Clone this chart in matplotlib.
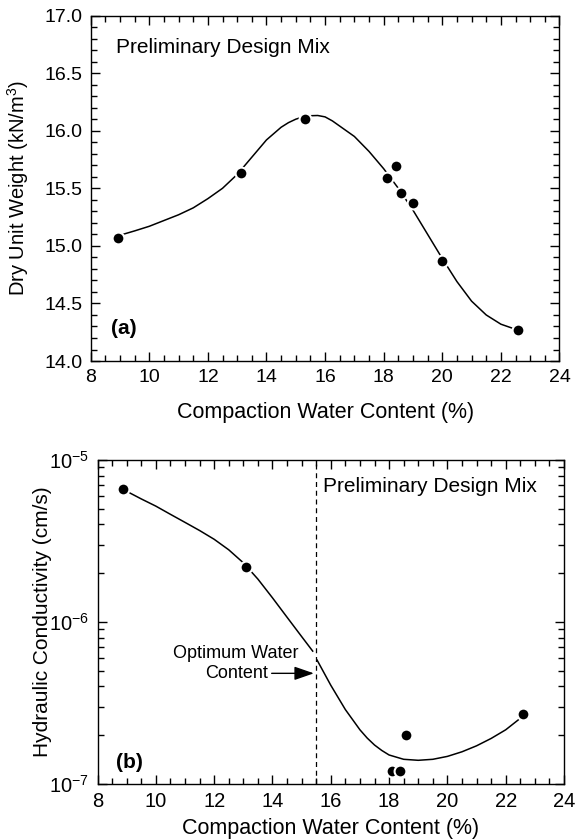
import numpy as np
import matplotlib
matplotlib.use('Agg')
import matplotlib.pyplot as plt
from matplotlib.ticker import MultipleLocator, LogLocator, NullFormatter

plt.rcParams['font.family'] = ['Liberation Sans', 'DejaVu Sans']
plt.rcParams['mathtext.fontset'] = 'custom'
plt.rcParams['mathtext.rm'] = 'Liberation Sans'
plt.rcParams['mathtext.it'] = 'Liberation Sans:italic'
plt.rcParams['mathtext.bf'] = 'Liberation Sans:bold'

# (a) compaction curve
w_a = [8.93, 13.13, 15.32, 18.10, 18.41, 18.60, 19.00, 20.00, 22.60]
gd_a = [15.07, 15.63, 16.10, 15.59, 15.69, 15.46, 15.37, 14.87, 14.27]

# fitted curve
fit_w_a = [9.1, 9.5, 10.0, 10.5, 11.0, 11.5, 12.0, 12.5, 13.0, 13.5, 14.0, 14.5,
           14.75, 15.0, 15.25, 15.5, 15.75, 16.0, 16.25, 16.5, 17.0, 17.5, 18.0,
           18.5, 19.0, 19.5, 20.0, 20.5, 21.0, 21.5, 22.0, 22.45]
fit_gd_a = [15.10, 15.13, 15.17, 15.22, 15.27, 15.33, 15.41, 15.50, 15.62, 15.77,
            15.92, 16.03, 16.07, 16.10, 16.12, 16.13, 16.132, 16.12, 16.085, 16.04,
            15.95, 15.82, 15.67, 15.50, 15.31, 15.10, 14.89, 14.69, 14.52, 14.40,
            14.32, 14.28]

# (b) hydraulic conductivity
w_b = [8.89, 13.08, 18.09, 18.39, 18.58, 22.59]
k_b = [6.6e-6, 2.2e-6, 1.2e-7, 1.2e-7, 2.0e-7, 2.7e-7]

fit_w_b1 = [9.07, 9.5, 10.0, 10.5, 11.0, 11.5, 12.0, 12.5, 13.0, 13.5, 14.0, 14.5, 15.0, 15.38]
fit_k_b1 = [6.31e-6, 5.75e-6, 5.19e-6, 4.62e-6, 4.12e-6, 3.67e-6, 3.24e-6, 2.79e-6,
            2.32e-6, 1.84e-6, 1.41e-6, 1.07e-6, 8.13e-7, 6.61e-7]
fit_w_b2 = [15.53, 16.0, 16.5, 17.0, 17.25, 17.5, 17.75, 18.0, 18.5, 19.0, 19.5, 20.0,
            20.5, 21.0, 21.5, 22.0, 22.46]
fit_k_b2 = [5.82e-7, 4.07e-7, 2.88e-7, 2.16e-7, 1.92e-7, 1.74e-7, 1.61e-7, 1.51e-7,
            1.42e-7, 1.40e-7, 1.42e-7, 1.48e-7, 1.58e-7, 1.72e-7, 1.91e-7, 2.16e-7,
            2.51e-7]

w_opt = 15.5

fig = plt.figure(figsize=(5.75, 8.4), dpi=100)
ax1 = fig.add_axes([0.1577, 0.5702, 0.8153, 0.4113])
ax2 = fig.add_axes([0.1696, 0.0667, 0.8113, 0.3857])

def style(ax, fs):
	for s in ax.spines.values():
		s.set_linewidth(1.0)
	ax.tick_params(which='both', direction='in', top=True, right=True, width=1.0,
	               labelsize=fs, pad=6)
	ax.tick_params(which='major', length=6.5)
	ax.tick_params(which='minor', length=4)

# ---- top
ax1.plot(fit_w_a, fit_gd_a, color='black', lw=1.1, zorder=2)
ax1.plot(w_a, gd_a, 'o', color='black', ms=8.5, mec='white', mew=1.5, zorder=3)
ax1.set_xlim(8, 24)
ax1.set_ylim(14.0, 17.0)
ax1.xaxis.set_major_locator(MultipleLocator(2))
ax1.xaxis.set_minor_locator(MultipleLocator(0.5))
ax1.yaxis.set_major_locator(MultipleLocator(0.5))
ax1.yaxis.set_minor_locator(MultipleLocator(0.1))
ax1.yaxis.set_major_formatter(plt.FormatStrFormatter('%.1f'))
style(ax1, 14)
ax1.set_xlabel('Compaction Water Content (%)', fontsize=15.5)
ax1.set_ylabel('Dry Unit Weight (kN/m$^3$)', fontsize=14.5)
ax1.xaxis.set_label_coords(0.5, -0.150)
ax1.xaxis.label.set_va('center')
ax1.yaxis.set_label_coords(-0.154, 0.5)
ax1.yaxis.label.set_va('center')
ax1.text(8.88, 16.72, 'Preliminary Design Mix', fontsize=15, ha='left', va='center')
ax1.text(8.7, 14.28, '(a)', fontsize=15, fontweight='bold', ha='left', va='center')

# ---- bottom
ax2.set_yscale('log')
ax2.plot(fit_w_b1, fit_k_b1, color='black', lw=1.1, zorder=2)
ax2.plot(fit_w_b2, fit_k_b2, color='black', lw=1.1, zorder=2)
ax2.plot(w_b, k_b, 'o', color='black', ms=8.5, mec='white', mew=1.5, zorder=3)
ax2.axvline(w_opt, color='black', lw=0.9, ls=(0, (4, 3)), zorder=1)
ax2.set_xlim(8, 24)
ax2.set_ylim(1e-7, 1e-5)
ax2.xaxis.set_major_locator(MultipleLocator(2))
ax2.xaxis.set_minor_locator(MultipleLocator(0.5))
ax2.yaxis.set_major_locator(LogLocator(base=10, numticks=5))
ax2.yaxis.set_minor_locator(LogLocator(base=10, subs=np.arange(2, 10), numticks=20))
ax2.yaxis.set_minor_formatter(NullFormatter())
style(ax2, 14.5)
ax2.set_xlabel('Compaction Water Content (%)', fontsize=15.5)
ax2.set_ylabel('Hydraulic Conductivity (cm/s)', fontsize=15)
ax2.xaxis.set_label_coords(0.5, -0.136)
ax2.xaxis.label.set_va('center')
ax2.yaxis.set_label_coords(-0.1175, 0.5)
ax2.yaxis.label.set_va('center')
ax2.text(15.75, 10**-5.165, 'Preliminary Design Mix', fontsize=15, ha='left', va='center')
ax2.text(8.65, 10**-6.866, '(b)', fontsize=15, fontweight='bold', ha='left', va='center')
ax2.text(12.73, 10**-6.194, 'Optimum Water', fontsize=13, ha='center', va='center')
ax2.annotate('Content', xy=(15.42, 10**-6.317), xytext=(13.83, 10**-6.317),
             fontsize=13, ha='right', va='center',
             arrowprops=dict(arrowstyle='-|>,head_length=0.75,head_width=0.26',
                             color='black', lw=1.0, mutation_scale=16,
                             shrinkA=1, shrinkB=0))

fig.savefig('out.png', dpi=100)
